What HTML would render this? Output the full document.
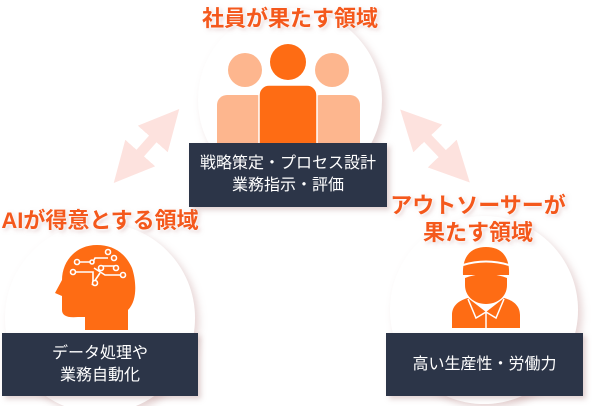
<!DOCTYPE html>
<html><head><meta charset="utf-8"><style>
body{margin:0;width:600px;height:406px;background:#fff;position:relative;overflow:hidden;font-family:"Liberation Sans","Noto Sans CJK JP",sans-serif}
.t{position:absolute;color:#f4581c;font-weight:bold;font-size:22px;text-align:center;line-height:27px;white-space:nowrap;text-shadow:0 0 3px #fff,0 0 3px #fff,2px 2px 4px rgba(200,150,150,.5)}
.b{position:absolute;background:#2c3548;color:#fff;font-size:16px;line-height:22px;text-align:center;display:flex;align-items:center;justify-content:center;box-shadow:3px 3px 5px rgba(180,140,140,.4)}
</style></head><body>
<svg width="600" height="406" style="position:absolute;left:0;top:0">
<defs><filter id="s" x="-20%" y="-20%" width="140%" height="140%"><feDropShadow dx="4" dy="4" stdDeviation="4" flood-color="#c9a0a0" flood-opacity=".45"/></filter>
<marker id="ah" markerWidth="4" markerHeight="4" refX="2" refY="2" orient="auto-start-reverse" markerUnits="strokeWidth"><path d="M0,0L4,2L0,4Z" fill="#fde2de"/></marker></defs>
<circle cx="290" cy="100" r="92" fill="#fff" filter="url(#s)"/>
<circle cx="100" cy="318" r="95" fill="#fff" filter="url(#s)"/>
<circle cx="484" cy="310" r="94" fill="#fff" filter="url(#s)"/>
<line x1="127" y1="168" x2="166" y2="124" stroke="#fde2de" stroke-width="10" marker-start="url(#ah)" marker-end="url(#ah)"/>
<line x1="414" y1="124" x2="456" y2="168" stroke="#fde2de" stroke-width="10" marker-start="url(#ah)" marker-end="url(#ah)"/>
<circle cx="245" cy="70" r="17" fill="#fdb68e"/><circle cx="332" cy="70" r="17" fill="#fdb68e"/>
<rect x="217" y="95" width="50" height="60" rx="10" fill="#fdb68e"/><rect x="310" y="95" width="50" height="60" rx="10" fill="#fdb68e"/>
<circle cx="288" cy="62" r="18" fill="#fe6c14"/>
<rect x="259" y="85" width="58" height="70" rx="10" fill="#fe6c14" stroke="#fff" stroke-width="1.5"/>
<path d="M97,245C75,245 62,262 62,280L55,293L62,296L62,310C62,316 68,318 78,317L85,317L85,330L128,330L128,310C138,300 136,280 132,268C125,252 112,245 97,245Z" fill="#fe6c14"/>
<g stroke="#fff" stroke-width="1.6" fill="#fe6c14">
<path d="M77,262H93L95,258H108M75,272H93V282M102,266H118M94,268L105,275H122M92,285L100,273" fill="none"/>
<circle cx="77" cy="262" r="2.5"/><circle cx="108" cy="252" r="2.5"/><circle cx="114" cy="258" r="2.5"/><circle cx="73" cy="272" r="2.5"/><circle cx="95" cy="283" r="2.5"/><circle cx="101" cy="268" r="2.5"/><circle cx="123" cy="275" r="2.5"/><circle cx="116" cy="268" r="2.5"/><circle cx="92" cy="262" r="2"/>
</g>
<path d="M463,275C462,255 472,247 486,247C500,247 510,255 509,275Z" fill="#fe6c14"/>
<path d="M463,265Q486,258 509,265" stroke="#fff" stroke-width="2" fill="none"/>
<path d="M465,278Q486,270 507,278L507,285C507,297 497,304 486,304C475,304 465,297 465,285Z" fill="#fe6c14"/>
<path d="M452,328L452,315C452,305 460,300 468,298L486,312L504,298C512,300 520,305 520,315L520,328Z" fill="#fe6c14"/>
<path d="M468,299L476,318L486,312M504,299L496,318L486,312M486,313V328" stroke="#fff" stroke-width="1.5" fill="none"/>
</svg>
<div class="t" style="left:190px;top:5px;width:200px">社員が果たす領域</div>
<div class="t" style="left:0;top:207px;width:200px">AIが得意とする領域</div>
<div class="t" style="left:378px;top:192px;width:200px">アウトソーサーが<br>果たす領域</div>
<div class="b" style="left:189px;top:143px;width:198px;height:64px">戦略策定・プロセス設計<br>業務指示・評価</div>
<div class="b" style="left:2px;top:333px;width:196px;height:63px">データ処理や<br>業務自動化</div>
<div class="b" style="left:386px;top:333px;width:197px;height:63px">高い生産性・労働力</div>
</body></html>
